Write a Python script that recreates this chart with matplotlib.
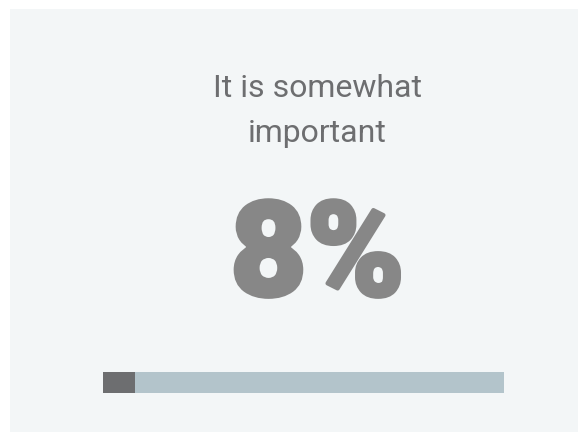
import matplotlib.pyplot as plt
import matplotlib.patheffects as pe

# data
label_lines = ["It is somewhat", "important"]
share = 8  # percent
total = 100

W, H = 588, 442
fig = plt.figure(figsize=(W / 100, H / 100), dpi=100)
fig.patch.set_facecolor("white")

# background panel
panel = fig.add_axes([10 / W, 1 - 432 / H, 568 / W, 423 / H])
panel.set_facecolor("#f3f6f7")
panel.set_xticks([])
panel.set_yticks([])
for s in panel.spines.values():
    s.set_visible(False)

cx = 317.5 / W
for line, base in zip(label_lines, [97, 142]):
    fig.text(cx, 1 - base / H, line, ha="center", va="baseline", fontsize=23,
             family="Roboto", color="#6d6e70")

big = fig.text(cx, 1 - 295.5 / H, f"{share}%", ha="center", va="baseline",
               fontsize=95, family="Roboto", weight="black", color="#878787")
big.set_path_effects([pe.withStroke(linewidth=3, foreground="#878787")])

# progress bar
bar = fig.add_axes([103 / W, 1 - 393 / H, 401 / W, 21 / H])
bar.barh(0, total, height=1, color="#b3c4cb")
bar.barh(0, share, height=1, color="#6d6e70")
bar.set_xlim(0, total)
bar.set_ylim(-0.5, 0.5)
bar.axis("off")

fig.savefig("out.png", dpi=100)
